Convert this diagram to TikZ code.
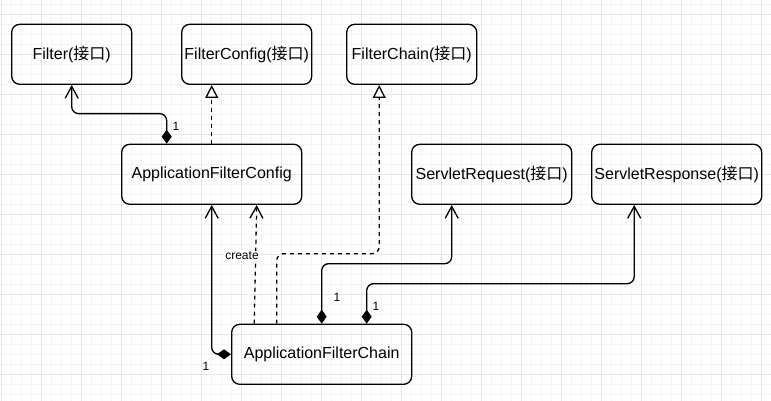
\documentclass[tikz,border=0pt]{standalone}
\usepackage{xcolor}
\usepackage{fontspec}
\setmainfont{Liberation Sans}
\newfontfamily\cjk{Noto Sans CJK SC}
\usepackage{tikz}
\usetikzlibrary{arrows.meta}

\definecolor{gridminor}{HTML}{F5F5F5}
\definecolor{gridmajor}{HTML}{E6E6E6}
\newcommand{\iface}{({\cjk 接口})}

\tikzset{
	cls/.style={draw,line width=1.3pt,rounded corners=8pt,minimum height=60pt,inner sep=0pt,font=\fontsize{16}{19}\selectfont},
	lbl/.style={inner sep=1pt,font=\fontsize{12}{14}\selectfont},
	comp/.style={line width=1.3pt,rounded corners=7pt,{Diamond[length=14pt,width=10pt]}-{Straight Barb[length=12pt,width=13pt]}},
	realize/.style={line width=1.3pt,rounded corners=7pt,dash pattern=on 4pt off 4pt,-{Triangle[open,length=13pt,width=13pt,fill=white]}},
	dep/.style={line width=1.3pt,dash pattern=on 4pt off 4pt,-{Straight Barb[length=12pt,width=13pt]}}
}

\begin{document}
\begin{tikzpicture}[x=1pt,y=-1pt]
				\useasboundingbox (0,0) rectangle (771,401);
				\fill[white] (0,0) rectangle (771,401);
				\begin{scope}
					\clip (0,0) rectangle (771,401);
					\draw[gridminor,line width=0.5pt,shift={(1.7,4.3)}] (-20,-20) grid[step=10pt] (790,420);
					\draw[gridmajor,line width=0.8pt,shift={(1.7,14.3)}] (-40,-40) grid[step=40pt] (800,440);
				\end{scope}
				\node [cls,minimum width=120pt] (filter) at (71.7,54.3) {Filter\iface};
				\node [cls,minimum width=130pt] (fconfig) at (246.7,54.3) {FilterConfig\iface};
				\node [cls,minimum width=130pt] (fchain) at (411.7,54.3) {FilterChain\iface};
				\node [cls,minimum width=180pt] (afconfig) at (211.7,174.3) {ApplicationFilterConfig};
				\node [cls,minimum width=160pt] (sreq) at (491.7,174.3) {ServletRequest\iface};
				\node [cls,minimum width=170pt] (sresp) at (676.7,174.3) {ServletResponse\iface};
				\node [cls,minimum width=180pt] (afchain) at (321.7,354.3) {ApplicationFilterChain};
				\draw [comp] ([xshift=-45pt]afconfig.north) -- ++(0,-30) -| (filter.south);
				\draw [realize] (afconfig.north) -- (afconfig.north |- fconfig.south);
				\draw [realize] ([xshift=-45pt]afchain.north) -- ++(0,-70) -| ([xshift=-32.5pt]fchain.south);
				\draw [comp] (afchain.west) -| (afconfig.south);
				\draw [dep] ([xshift=-67.5pt]afchain.north) -- ([xshift=45pt]afconfig.south);
				\draw [comp] (afchain.north) -- ++(0,-60) -| ([xshift=-40pt]sreq.south);
				\draw [comp] ([xshift=45pt]afchain.north) -- ++(0,-40) -| ([xshift=-42.5pt]sresp.south);
				\node [lbl] (one1) at (176,126) {1};
				\node [lbl] (one2) at (206,366) {1};
				\node [lbl] (one3) at (337,297) {1};
				\node [lbl] (one4) at (376,306) {1};
				\node [lbl,fill=white] (create) at (242,256) {create};
			\end{tikzpicture}
\end{document}
